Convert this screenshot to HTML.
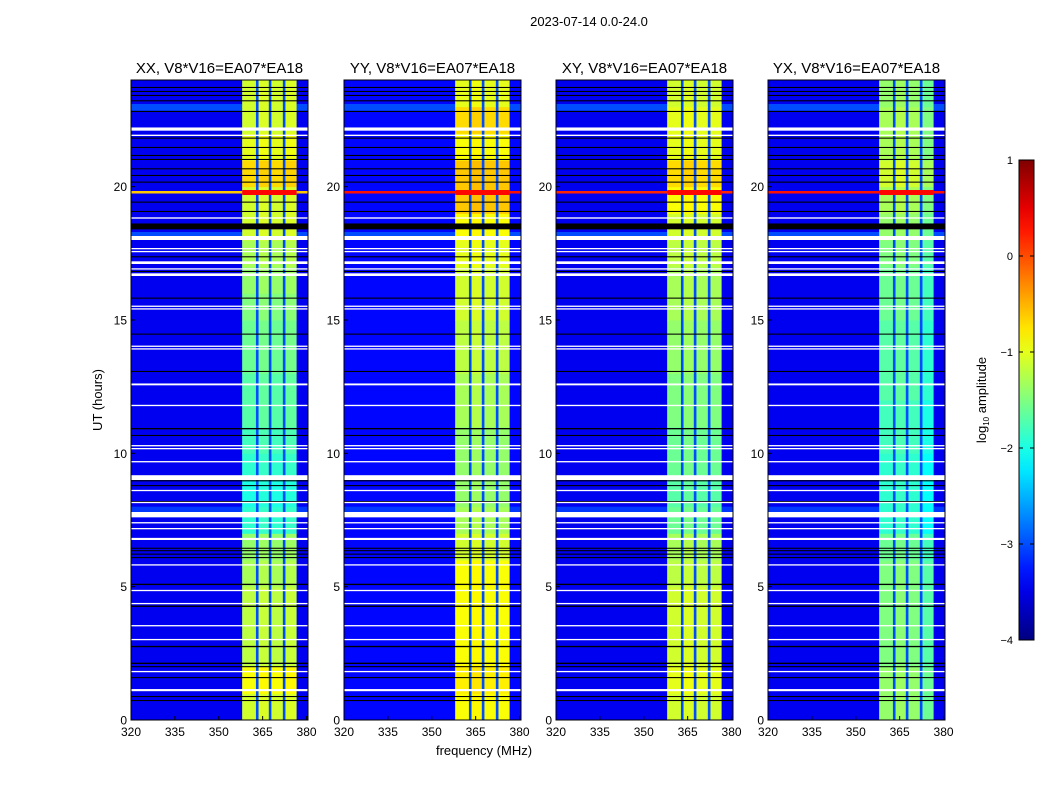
<!DOCTYPE html>
<html><head><meta charset="utf-8">
<style>
body{margin:0;background:#fff;font-family:"Liberation Sans",sans-serif;}
svg{display:block}
text{font-family:"Liberation Sans",sans-serif;fill:#000}
</style></head>
<body>
<svg id="fig" width="1050" height="800" viewBox="0 0 1050 800" xmlns="http://www.w3.org/2000/svg">
<rect width="1050" height="800" fill="#fff"/>
<text x="589" y="26" font-size="13" text-anchor="middle">2023-07-14 0.0-24.0</text>
<text transform="translate(102,400) rotate(-90)" font-size="13" text-anchor="middle">UT (hours)</text>
<text x="484" y="755" font-size="13" text-anchor="middle">frequency (MHz)</text>
<g id="panels"></g>
<g id="cbar"></g>
</svg>
<script>
// ---- data ----
const panelTitles = ["XX, V8*V16=EA07*EA18","YY, V8*V16=EA07*EA18","XY, V8*V16=EA07*EA18","YX, V8*V16=EA07*EA18"];
const hours = [0,1,2,3,4,5,6,7,8,9,10,11,12,13,14,15,16,17,18,19,20,21,22,23];
const bandXX = [-1.1,-0.9,-1.2,-1.2,-1.2,-1.3,-1.4,-1.9,-2.0,-1.9,-1.8,-1.7,-1.7,-1.6,-1.6,-1.5,-1.4,-1.3,-1.1,-1.1,-0.7,-1.0,-1.1,-1.1];
const bandYY = [-0.9,-0.8,-0.9,-0.9,-0.9,-0.9,-1.1,-1.3,-1.4,-1.4,-1.4,-1.3,-1.3,-1.2,-1.2,-1.1,-1.1,-1.0,-0.9,-0.6,-0.6,-0.9,-0.7,-1.0];
const bandXY = [-1.1,-1.0,-1.1,-1.1,-1.1,-1.2,-1.3,-1.6,-1.7,-1.6,-1.6,-1.5,-1.5,-1.4,-1.4,-1.3,-1.3,-1.2,-1.1,-0.9,-0.7,-1.0,-1.0,-1.1];
const bandYX = [-1.4,-1.4,-1.5,-1.5,-1.5,-1.5,-1.6,-1.9,-1.9,-1.9,-1.8,-1.8,-1.7,-1.7,-1.7,-1.6,-1.6,-1.5,-1.4,-1.3,-1.1,-1.3,-1.3,-1.4];
const bgLevels = [-3.45,-3.35,-3.45,-3.45];
const subOffsets = [0.05,0,0,-0.2];
const subbandEdges = [358,362.7,363.6,367.1,368.0,371.9,372.8,376.6];
const brightBgRows = [[22.85,23.1,-3.0],[18.0,18.3,-3.0],[7.6,8.0,-3.1]];
const rfiHour = 19.8;
const rfiLevels = [-0.6,0.3,0.2,0.3];
const whiteRows = [[22.1,22.22],[21.9,21.95],[18.8,18.85],[18.0,18.15],[17.66,17.7],[17.55,17.59],[17.1,17.2],[16.9,16.94],[16.65,16.75],[15.5,15.54],[15.4,15.44],[14.0,14.04],[13.9,13.94],[12.55,12.62],[11.77,11.82],[10.27,10.31],[10.16,10.2],[9.67,9.71],[9.0,9.18],[8.59,8.63],[8.14,8.18],[7.6,7.8],[7.38,7.42],[7.16,7.2],[6.75,6.83],[5.8,5.84],[4.84,4.88],[4.35,4.39],[3.52,3.56],[3.0,3.04],[1.8,1.84],[1.08,1.16]];
const blackRows = [[23.7,23.74],[23.55,23.59],[23.4,23.44],[23.2,23.24],[22.8,22.84],[21.8,21.84],[21.45,21.49],[21.15,21.19],[21.0,21.04],[20.65,20.69],[20.4,20.44],[20.15,20.19],[19.4,19.44],[19.05,19.09],[18.4,18.62],[17.35,17.39],[16.8,16.84],[15.8,15.84],[14.45,14.49],[13.05,13.09],[10.9,10.95],[10.65,10.69],[8.95,8.99],[8.77,8.81],[8.17,8.21],[6.07,6.11],[6.2,6.24],[6.33,6.37],[6.42,6.46],[5.06,5.11],[4.24,4.29],[2.73,2.78],[2.1,2.15],[1.98,2.02],[1.57,1.61],[0.86,0.9],[0.71,0.75]];
const xTicks = [320,335,350,365,380];
const yTicks = [0,5,10,15,20];
const cbarTicks = [1,0,-1,-2,-3,-4];
const bands = [bandXX,bandYY,bandXY,bandYX];

// ---- layout ----
const NS = "http://www.w3.org/2000/svg";
const lefts = [131,344,556,768], PW = 177, TOP = 80, BOT = 720;
const FMIN = 320, FMAX = 380.5, VMIN = -4, VMAX = 1;
function yOf(h){ return BOT - (h/24)*(BOT-TOP); }
function xOf(p,f){ return lefts[p] + (f-FMIN)/(FMAX-FMIN)*PW; }
function jet(v){
  let t = Math.max(0,Math.min(1,(v-VMIN)/(VMAX-VMIN)));
  const c = x=>Math.round(255*Math.max(0,Math.min(1,x)));
  return `rgb(${c(1.5-Math.abs(4*t-3))},${c(1.5-Math.abs(4*t-2))},${c(1.5-Math.abs(4*t-1))})`;
}
function mk(tag, attrs, parent){
  const e = document.createElementNS(NS, tag);
  for (const k in attrs) e.setAttribute(k, attrs[k]);
  parent.appendChild(e); return e;
}
const G = document.getElementById('panels');
for (let p=0;p<4;p++){
  const g = mk('g',{},G);
  
  
  const bg = mk('rect',{x:lefts[p],y:TOP,width:PW,height:BOT-TOP,fill:jet(bgLevels[p])},g);
  
  
  brightBgRows.forEach(r=>{
    const e = mk('rect',{x:lefts[p],y:yOf(r[1]),width:PW,height:yOf(r[0])-yOf(r[1]),fill:jet(r[2])},g);
    
    
  });
  const gap = mk('rect',{x:xOf(p,subbandEdges[0]),y:TOP,width:xOf(p,subbandEdges[7])-xOf(p,subbandEdges[0]),height:BOT-TOP,fill:jet(-3.0)},g);
  
  
  hours.forEach((h,i)=>{
    for (let s=0;s<4;s++){
      const v = bands[p][i] + (s==3?subOffsets[p]:0) + (s==1?0.05:0);
      const x0 = xOf(p,subbandEdges[2*s]), x1 = xOf(p,subbandEdges[2*s+1]);
      const e = mk('rect',{x:x0,y:yOf(h+1),width:x1-x0,height:yOf(h)-yOf(h+1)+0.5,fill:jet(v)},g);
      
      
    }
  });
  const rf = mk('rect',{x:lefts[p],y:yOf(rfiHour)-1,width:PW,height:2.5,fill:jet(rfiLevels[p])},g);
  
  
  const rf2 = mk('rect',{x:xOf(p,subbandEdges[0]),y:yOf(rfiHour)-2,width:xOf(p,subbandEdges[7])-xOf(p,subbandEdges[0]),height:5,fill:jet(0.35)},g);
  
  
  blackRows.forEach(r=>{
    const e = mk('rect',{x:lefts[p],y:yOf(r[1]),width:PW,height:Math.max(1,yOf(r[0])-yOf(r[1])),fill:'#000'},g);
    
    
  });
  whiteRows.forEach(r=>{
    const e = mk('rect',{x:lefts[p],y:yOf(r[1]),width:PW,height:Math.max(1.3,yOf(r[0])-yOf(r[1])),fill:'#fff'},g);
    
    
  });
  const fr = mk('rect',{x:lefts[p],y:TOP,width:PW,height:BOT-TOP,fill:'none',stroke:'#000','stroke-width':1},g);
  
  
  const t = mk('text',{x:lefts[p]+PW/2,y:73,'font-size':15,'text-anchor':'middle'},g);
  t.textContent = panelTitles[p];
  
  
  xTicks.forEach(f=>{
    const x = xOf(p,f);
    mk('line',{x1:x,x2:x,y1:BOT,y2:BOT-4,stroke:'#000'},g);
    const l = mk('text',{x:x,y:BOT+16,'font-size':12,'text-anchor':'middle'},g);
    l.textContent = f;
    
    
  });
  yTicks.forEach(h=>{
    const y = yOf(h);
    mk('line',{x1:lefts[p],x2:lefts[p]+4,y1:y,y2:y,stroke:'#000'},g);
    const l = mk('text',{x:lefts[p]-4,y:y+4.5,'font-size':12,'text-anchor':'end'},g);
    l.textContent = h;
    
    
  });
}
const C = document.getElementById('cbar');
const CX=1019, CW=15, CT=160, CB=640;
const defs = mk('defs',{},C);
const grad = mk('linearGradient',{id:'jetg',x1:0,y1:1,x2:0,y2:0},defs);
for (let i=0;i<=20;i++){ mk('stop',{offset:i/20,'stop-color':jet(VMIN+(VMAX-VMIN)*i/20)},grad); }
const cb = mk('rect',{x:CX,y:CT,width:CW,height:CB-CT,fill:'url(#jetg)',stroke:'#000','stroke-width':1},C);


cbarTicks.forEach(v=>{
  const y = CB - (v-VMIN)/(VMAX-VMIN)*(CB-CT);
  mk('line',{x1:CX,x2:CX+4,y1:y,y2:y,stroke:'#000'},C);
  mk('line',{x1:CX+CW-4,x2:CX+CW,y1:y,y2:y,stroke:'#000'},C);
  const l = mk('text',{x:CX-6,y:y+4,'font-size':11,'text-anchor':'end'},C);
  l.textContent = v<0 ? '\u2212'+(-v) : v;
  
  
});
const cl = mk('text',{transform:'translate(986,400) rotate(-90)','font-size':13,'text-anchor':'middle'},C);
cl.innerHTML = 'log<tspan font-size="8" dy="3">10</tspan><tspan dy="-3"> amplitude</tspan>';


</script>
</body></html>
